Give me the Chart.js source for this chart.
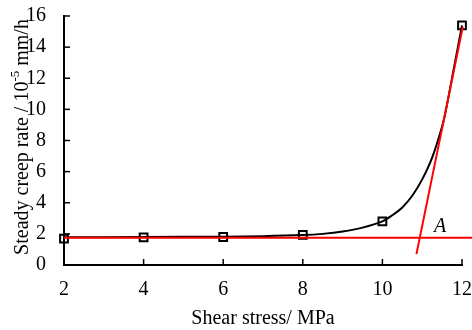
<!DOCTYPE html>
<html>
<head>
<meta charset="utf-8">
<script src="https://cdn.jsdelivr.net/npm/chart.js@4.4.1/dist/chart.umd.min.js"></script>
<style>
  html, body { margin: 0; padding: 0; background: #fff; }
  #wrap { width: 472px; height: 330px; }
</style>
</head>
<body>
<div id="wrap"><canvas id="creepChart"></canvas></div>
<script>
// measured points
const stressX = [2, 4, 6, 8, 10, 12];
const creepRate = [1.7, 1.78, 1.8, 1.93, 2.8, 15.4];

// fitted curve
const fitX = [2, 4, 6, 7, 8, 8.5, 9, 9.5, 10, 10.25, 10.5, 10.75, 11, 11.25, 11.5, 11.6, 11.8, 12];
const fitY = [1.78, 1.8, 1.82, 1.85, 1.92, 2.0, 2.15, 2.4, 2.8, 3.2, 3.7, 4.45, 5.5, 6.9, 8.9, 10.0, 12.7, 15.4];

// red tangent lines
const baseX = [2, 12.25];
const baseY = [1.75, 1.75];
const steepX = [10.855, 12.02];
const steepY = [0.7, 15.3];

const xTicks = [2, 4, 6, 8, 10, 12];
const yTicks = [0, 2, 4, 6, 8, 10, 12, 14, 16];

const FONT = '"Liberation Serif", "Times New Roman", serif';
const FS = 20;

function pts(xs, ys) {
    return xs.map((x, i) => ({ x: x, y: ys[i] }));
}

// inward tick marks, axis titles, label A
const decorPlugin = {
    id: 'decor',
    afterDraw(chart) {
        const ctx = chart.ctx;
        const xs = chart.scales.x, ys = chart.scales.y;
        const area = chart.chartArea;
        ctx.save();
        ctx.strokeStyle = '#000';
        ctx.lineWidth = 1.5;
        xTicks.forEach(v => {
            const px = xs.getPixelForValue(v);
            ctx.beginPath();
            ctx.moveTo(px, area.bottom);
            ctx.lineTo(px, area.bottom - 6);
            ctx.stroke();
        });
        yTicks.forEach(v => {
            const py = ys.getPixelForValue(v);
            ctx.beginPath();
            ctx.moveTo(area.left, py);
            ctx.lineTo(area.left + 6, py);
            ctx.stroke();
        });

        ctx.fillStyle = '#000';
        // x title
        ctx.font = FS + 'px ' + FONT;
        ctx.textAlign = 'center';
        ctx.textBaseline = 'alphabetic';
        ctx.fillText('Shear stress/ MPa', (area.left + area.right) / 2, 324);

        // y title with superscript
        const main = 'Steady creep rate / 10';
        const sup = '-5';
        const tail = ' mm/h';
        ctx.font = FS + 'px ' + FONT;
        const w1 = ctx.measureText(main).width;
        const w3 = ctx.measureText(tail).width;
        ctx.font = '13px ' + FONT;
        const w2 = ctx.measureText(sup).width;
        const total = w1 + w2 + w3;
        ctx.translate(28, 137);
        ctx.rotate(-Math.PI / 2);
        ctx.textAlign = 'left';
        let cx = -total / 2;
        ctx.font = FS + 'px ' + FONT;
        ctx.fillText(main, cx, 0);
        cx += w1;
        ctx.font = '13px ' + FONT;
        ctx.fillText(sup, cx, -9);
        cx += w2;
        ctx.font = FS + 'px ' + FONT;
        ctx.fillText(tail, cx, 0);
        ctx.restore();

        // label A
        ctx.save();
        ctx.fillStyle = '#000';
        ctx.font = 'italic ' + FS + 'px ' + FONT;
        ctx.textAlign = 'center';
        ctx.textBaseline = 'alphabetic';
        ctx.fillText('A', xs.getPixelForValue(11.45), ys.getPixelForValue(2.12));
        ctx.restore();
    }
};

const ctx = document.getElementById('creepChart').getContext('2d');
new Chart(ctx, {
    type: 'scatter',
    data: {
        datasets: [
            {
                label: 'base',
                data: pts(baseX, baseY),
                showLine: true,
                borderColor: '#ff0000',
                borderWidth: 2,
                pointRadius: 0,
                clip: false
            },
            {
                label: 'steep',
                data: pts(steepX, steepY),
                showLine: true,
                borderColor: '#ff0000',
                borderWidth: 2,
                pointRadius: 0,
                clip: false
            },
            {
                label: 'fit',
                data: pts(fitX, fitY),
                showLine: true,
                borderColor: '#000',
                borderWidth: 2,
                pointRadius: 0,
                tension: 0.3,
                clip: false
            },
            {
                label: 'measured',
                data: pts(stressX, creepRate),
                showLine: false,
                pointStyle: 'rect',
                pointRadius: 5.5,
                pointBorderWidth: 2,
                pointBorderColor: '#000',
                pointBackgroundColor: 'rgba(255,255,255,0)',
                clip: false
            }
        ]
    },
    options: {
        responsive: true,
        maintainAspectRatio: false,
        animation: false,
        layout: { padding: { top: 16, right: 10, left: 0, bottom: 0 } },
        plugins: {
            legend: { display: false },
            tooltip: { enabled: false }
        },
        scales: {
            x: {
                type: 'linear',
                min: 2,
                max: 12,
                afterBuildTicks: s => { s.ticks = xTicks.map(v => ({ value: v })); },
                afterFit: s => { s.height = 65; s.paddingLeft = 0; s.paddingRight = 0; },
                grid: { display: false },
                border: { display: true, color: '#000', width: 2 },
                ticks: { color: '#000', padding: 5, font: { family: FONT, size: FS } }
            },
            y: {
                type: 'linear',
                min: 0,
                max: 16,
                afterBuildTicks: s => { s.ticks = yTicks.map(v => ({ value: v })); },
                afterFit: s => { s.width = 64; s.paddingTop = 0; s.paddingBottom = 0; },
                grid: { display: false },
                border: { display: true, color: '#000', width: 2 },
                ticks: { color: '#000', padding: 10, font: { family: FONT, size: FS } }
            }
        }
    },
    plugins: [decorPlugin]
});
</script>
</body>
</html>
